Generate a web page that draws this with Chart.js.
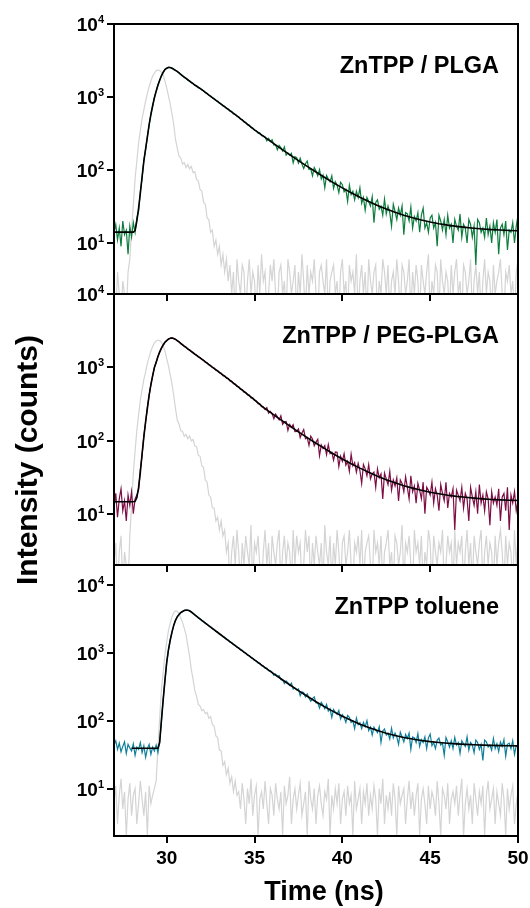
<!DOCTYPE html>
<html>
<head>
<meta charset="utf-8">
<script src="https://cdn.jsdelivr.net/npm/chart.js@4.4.1/dist/chart.umd.min.js"></script>
<style>
  html, body { margin: 0; padding: 0; background: #fff; }
  #wrap { position: relative; width: 530px; height: 908px; overflow: hidden; }
  #wrap canvas { position: absolute; left: 0; top: 0; }
</style>
</head>
<body>
<div id="wrap">
  <canvas id="panelTop" width="530" height="908"></canvas>
  <canvas id="panelMid" width="530" height="908"></canvas>
  <canvas id="panelBot" width="530" height="908"></canvas>
</div>
<script>
// detector channels (ns)
const timeNs = [
  27.0, 27.1, 27.2, 27.3, 27.4, 27.5, 27.6, 27.7, 27.8, 27.9,
  28.0, 28.1, 28.2, 28.3, 28.4, 28.5, 28.6, 28.7, 28.8, 28.9,
  29.0, 29.1, 29.2, 29.3, 29.4, 29.5, 29.6, 29.7, 29.8, 29.9,
  30.0, 30.1, 30.2, 30.3, 30.4, 30.5, 30.6, 30.7, 30.8, 30.9,
  31.0, 31.1, 31.2, 31.3, 31.4, 31.5, 31.6, 31.7, 31.8, 31.9,
  32.0, 32.1, 32.2, 32.3, 32.4, 32.5, 32.6, 32.7, 32.8, 32.9,
  33.0, 33.1, 33.2, 33.3, 33.4, 33.5, 33.6, 33.7, 33.8, 33.9,
  34.0, 34.1, 34.2, 34.3, 34.4, 34.5, 34.6, 34.7, 34.8, 34.9,
  35.0, 35.1, 35.2, 35.3, 35.4, 35.5, 35.6, 35.7, 35.8, 35.9,
  36.0, 36.1, 36.2, 36.3, 36.4, 36.5, 36.6, 36.7, 36.8, 36.9,
  37.0, 37.1, 37.2, 37.3, 37.4, 37.5, 37.6, 37.7, 37.8, 37.9,
  38.0, 38.1, 38.2, 38.3, 38.4, 38.5, 38.6, 38.7, 38.8, 38.9,
  39.0, 39.1, 39.2, 39.3, 39.4, 39.5, 39.6, 39.7, 39.8, 39.9,
  40.0, 40.1, 40.2, 40.3, 40.4, 40.5, 40.6, 40.7, 40.8, 40.9,
  41.0, 41.1, 41.2, 41.3, 41.4, 41.5, 41.6, 41.7, 41.8, 41.9,
  42.0, 42.1, 42.2, 42.3, 42.4, 42.5, 42.6, 42.7, 42.8, 42.9,
  43.0, 43.1, 43.2, 43.3, 43.4, 43.5, 43.6, 43.7, 43.8, 43.9,
  44.0, 44.1, 44.2, 44.3, 44.4, 44.5, 44.6, 44.7, 44.8, 44.9,
  45.0, 45.1, 45.2, 45.3, 45.4, 45.5, 45.6, 45.7, 45.8, 45.9,
  46.0, 46.1, 46.2, 46.3, 46.4, 46.5, 46.6, 46.7, 46.8, 46.9,
  47.0, 47.1, 47.2, 47.3, 47.4, 47.5, 47.6, 47.7, 47.8, 47.9,
  48.0, 48.1, 48.2, 48.3, 48.4, 48.5, 48.6, 48.7, 48.8, 48.9,
  49.0, 49.1, 49.2, 49.3, 49.4, 49.5, 49.6, 49.7, 49.8, 49.9,
  50.0
];

// ---- ZnTPP / PLGA ----
const irfPLGA = [
  3, 1, 4, 2, 1, 3, 2, 1, 4, 6,
  15, 33, 76, 131, 234, 349, 508, 668, 880, 1110,
  1392, 1650, 1940, 2125, 2300, 2335, 2325, 2175, 1985, 1648,
  1330, 1035, 805, 580, 425, 262, 201, 155, 147, 121,
  126, 108, 119, 104, 112, 92, 95, 74, 71, 54,
  51, 36, 34, 22, 21, 14, 15, 9, 11, 7,
  9, 5, 7, 4, 6,
  3, 5, 2, 4, 1, 6, 3, 2, 5, 4,
  1, 3, 6, 2, 4, 3, 1, 5, 2, 7,
  3, 4, 1, 2, 5, 3, 6, 2, 1, 4,
  5, 2, 3, 1, 6, 4, 2, 3, 5, 1,
  4, 2, 7, 3, 1, 5, 2, 4, 3, 6,
  2, 1, 4, 5, 3, 2, 6, 1, 3, 4,
  5, 2, 3, 1, 4, 6, 2, 3, 1, 5,
  3, 4, 2, 7, 1, 3, 5, 2, 4, 1,
  6, 3, 2, 4, 5, 1, 3, 2, 6, 4,
  2, 5, 1, 3, 4, 2, 6, 3, 1, 5,
  4, 2, 3, 6, 1, 4, 2, 5, 3, 1,
  5, 3, 2, 4, 7, 1, 3, 2, 5, 4,
  1, 6, 3, 2, 4, 3, 1, 5, 2, 4,
  6, 2, 3, 1, 5, 4, 2, 3, 6, 1,
  3, 5, 2, 4, 1, 3, 6, 2, 4, 3,
  1, 5, 2, 3, 4, 6, 2, 1, 4, 3,
  5, 2, 3, 1, 4, 6
];
const dataPLGA = [
  14, 18, 11, 16, 9, 20, 13, 15, 7, 17, 12, 19, 14,
  22, 27, 51, 77, 138, 190, 290, 410, 582, 750,
  985, 1190, 1460, 1690, 1962, 2170, 2390, 2470, 2560, 2525,
  2500, 2385, 2330, 2225, 2150, 2030, 1968, 1855, 1810, 1708,
  1665, 1572, 1535, 1450, 1420, 1340, 1318, 1250, 1222, 1148,
  1125, 1055, 1030, 975, 955, 895, 880, 825, 805, 755,
  748, 695, 690, 640, 635, 585, 580, 545, 535, 495,
  490, 455, 448, 415, 412, 380, 376, 350, 345, 320,
  322, 296, 293,
  284, 251, 271, 245, 260, 219, 222, 189, 217, 202,
  182, 207, 160, 171, 159, 169, 125, 152, 148, 124,
  145, 121, 105, 122, 133, 102, 104, 83, 108, 97,
  83, 101, 75, 85, 57, 84, 75, 69, 83, 56,
  69, 62, 49, 68, 63, 50, 54, 37, 62, 46,
  51, 39, 51, 42, 57, 35, 42, 28, 42, 37,
  32, 43, 19, 36, 39, 29, 32, 24, 40, 25,
  32, 26, 17, 34, 27, 21, 30, 24, 32, 13,
  26, 25, 20, 31, 16, 23, 20, 26, 14, 24,
  30, 16, 19, 14, 22, 24, 16, 19, 9, 24,
  20, 15, 21, 13, 24, 16, 18, 10, 21, 17,
  15, 25, 12, 18, 16, 10, 21, 18, 12, 17,
  5, 21, 19, 14, 16, 12, 22, 13, 17, 10,
  19, 14, 21, 7, 16, 18, 13, 20, 8, 15,
  14, 19, 10, 17, 24
];

// ---- ZnTPP / PEG-PLGA ----
const irfPEG = [
  2, 4, 1, 3, 5, 1, 3, 2, 1, 5,
  13, 36, 71, 138, 226, 360, 495, 684, 865, 1131,
  1372, 1668, 1918, 2150, 2282, 2352, 2308, 2196, 1962, 1670,
  1310, 1055, 786, 596, 410, 275, 190, 168, 136, 134,
  114, 121, 106, 116, 99, 103, 84, 83, 63, 61,
  45, 43, 29, 27, 18, 17, 12, 12, 8, 9,
  6, 8, 5, 6, 3,
  4, 1, 3, 5, 2, 6, 3, 1, 4, 2,
  5, 3, 2, 7, 1, 4, 3, 5, 2, 1,
  3, 6, 2, 4, 1, 5, 3, 2, 4, 6,
  1, 3, 5, 2, 4, 3, 1, 6, 2, 5,
  3, 4, 1, 2, 6, 3, 5, 1, 4, 2,
  5, 3, 2, 4, 1, 7, 3, 2, 5, 1,
  4, 2, 6, 3, 1, 4, 5, 2, 3, 6,
  2, 1, 4, 3, 5, 2, 6, 1, 3, 4,
  5, 2, 1, 6, 3, 4, 2, 5, 1, 3,
  4, 6, 2, 3, 1, 5, 4, 2, 3, 7,
  1, 4, 3, 5, 2, 1, 6, 3, 4, 2,
  5, 1, 3, 2, 6, 4, 1, 5, 3, 2,
  4, 3, 6, 1, 2, 5, 3, 4, 1, 6,
  2, 4, 3, 5, 1, 3, 6, 2, 4, 1,
  5, 3, 2, 4, 6, 1, 3, 5, 2, 4,
  3, 1, 5, 2, 4, 6, 3, 1, 5, 2,
  4, 3, 1, 6, 2, 5
];
const dataPEG = [
  12, 19, 9, 16, 22, 11, 15, 8, 18, 13, 20, 10, 16,
  18, 21, 40, 63, 117, 176, 283, 409, 584, 758,
  1001, 1162, 1410, 1608, 1836, 2002, 2205, 2300, 2445, 2478,
  2530, 2455, 2418, 2300, 2232, 2100, 2045, 1925, 1878, 1770,
  1730, 1630, 1592, 1500, 1468, 1382, 1355, 1275, 1250, 1172,
  1150, 1080, 1058, 990, 978, 912, 900, 842, 828, 770,
  765, 710, 705, 650, 648, 595, 590, 548, 543, 498,
  495, 458, 455, 420, 418, 383, 382, 352, 347, 318,
  317, 290, 288,
  265, 281, 237, 250, 234, 198, 230, 211, 191, 218,
  167, 180, 182, 137, 166, 151, 164, 132, 133, 144,
  110, 127, 141, 106, 110, 86, 115, 105, 85, 95,
  104, 62, 87, 78, 85, 64, 88, 66, 69, 54,
  70, 69, 44, 61, 52, 66, 46, 52, 38, 65,
  45, 50, 37, 49, 39, 26, 47, 41, 33, 47,
  30, 35, 37, 23, 41, 31, 35, 16, 36, 30,
  25, 38, 21, 29, 24, 31, 15, 29, 26, 20,
  32, 23, 16, 33, 20, 24, 14, 26, 21, 16,
  27, 10, 23, 21, 18, 27, 14, 22, 18, 11,
  25, 19, 15, 27, 12, 19, 17, 22, 6, 21,
  18, 15, 23, 12, 19, 16, 8, 23, 17, 13,
  20, 10, 25, 14, 18, 11, 20, 16, 7, 20,
  14, 17, 13, 22, 8, 17, 19, 11, 23, 6,
  18, 14, 20, 11, 15
];

// ---- ZnTPP toluene ----
const irfToluene = [
  6, 11, 3, 8, 14, 5, 9, 2, 7, 12, 4, 8, 10, 3, 6, 13, 7, 4, 9, 2, 11, 6, 8,
  10, 13, 39, 110, 292, 528, 945, 1465, 2150, 2738,
  3445, 3920, 4205, 4150, 3865, 3290, 2870, 2325, 1860, 1300,
  905, 575, 410, 279, 232, 175, 165, 141, 147, 128,
  133, 110, 116, 89, 84, 60, 57, 37, 36, 22,
  25, 16, 20, 12, 15, 9, 13, 8,
  9, 5, 12, 7, 3, 10, 6, 14, 4, 8,
  11, 2, 7, 9, 5, 13, 6, 3, 10, 8,
  4, 12, 7, 5, 9, 2, 11, 6, 8, 15,
  3, 7, 10, 5, 8, 12, 4, 6, 9, 2,
  13, 7, 5, 10, 3, 8, 11, 6, 4, 9,
  7, 14, 2, 8, 5, 10, 6, 12, 3, 7,
  9, 4, 11, 6, 8, 2, 13, 5, 7, 10,
  3, 9, 6, 12, 4, 8, 5, 11, 7, 2,
  10, 6, 14, 3, 8, 5, 9, 4, 12, 7,
  2, 11, 6, 8, 10, 3, 7, 13, 5, 9,
  4, 8, 12, 2, 7, 10, 6, 3, 11, 5,
  9, 7, 4, 13, 6, 2, 10, 8, 5, 12,
  3, 7, 9, 6, 11, 4, 8, 14, 2, 6,
  10, 5, 8, 3, 12, 7, 4, 9, 6, 11,
  2, 8, 13, 5, 7, 10, 3, 9, 6, 4,
  12, 7, 2, 10, 5, 8, 11, 3, 6, 9
];
const dataToluene = [
  44, 51, 38, 47, 35, 42, 49, 33, 45, 40, 36, 46, 31, 41, 38, 48, 34, 43, 29, 39, 45, 32, 41, 36, 44, 34,
  50, 98, 210, 390, 735, 1110, 1565, 2025, 2590, 3035,
  3450, 3695, 3975, 4100, 4268, 4290, 4330, 4195, 4070, 3850,
  3700, 3510, 3300, 3205, 3015, 2930, 2750, 2680, 2510, 2445,
  2290, 2240, 2095, 2045, 1910, 1870, 1745, 1710, 1595, 1565,
  1455, 1430, 1335, 1310, 1218, 1200, 1115, 1098, 1020, 1005,
  932, 921, 855, 843, 782, 774, 716, 711, 655, 652,
  602, 600, 551, 552,
  524, 471, 492, 452, 466, 405, 404, 355, 388, 364,
  333, 361, 294, 306, 286, 297, 235, 269, 260, 226,
  251, 217, 194, 214, 227, 184, 185, 155, 187, 171,
  151, 175, 139, 151, 113, 147, 135, 125, 143, 107,
  124, 113, 95, 120, 113, 95, 100, 77, 110, 88,
  94, 77, 95, 82, 101, 72, 81, 62, 81, 73,
  67, 82, 48, 71, 76, 62, 66, 54, 78, 56,
  66, 58, 45, 68, 58, 49, 63, 55, 66, 38,
  58, 56, 48, 65, 42, 53, 48, 58, 39, 56,
  64, 43, 48, 39, 52, 56, 44, 47, 31, 57,
  49, 41, 51, 39, 57, 44, 48, 33, 51, 46,
  42, 58, 37, 48, 44, 34, 52, 48, 38, 45,
  26, 52, 49, 41, 44, 37, 55, 39, 46, 35,
  49, 42, 53, 30, 45, 47, 39, 51, 32, 43,
  41
];

// fitted decays (smooth), shared time grid
const fitTime = [
  27.0, 27.5,
  28.0, 28.1, 28.2, 28.3, 28.4, 28.5, 28.6, 28.7, 28.8, 28.9,
  29.0, 29.1, 29.2, 29.3, 29.4, 29.5, 29.6, 29.7, 29.8, 29.9,
  30.0, 30.1, 30.2, 30.3, 30.4, 30.5, 30.6, 30.7, 30.8, 30.9,
  31.0, 31.1, 31.2, 31.3, 31.4, 31.5, 31.6,
  32.0, 32.5, 33.0, 33.5, 34.0, 34.5, 35.0, 35.5, 36.0, 36.5,
  37.0, 37.5, 38.0, 38.5, 39.0, 39.5, 40.0, 40.5, 41.0, 41.5,
  42.0, 42.5, 43.0, 43.5, 44.0, 44.5, 45.0, 45.5, 46.0, 46.5,
  47.0, 47.5, 48.0, 48.5, 49.0, 49.5, 50.0
];
const fitPLGA = [
  14.1, 14.1,
  14.1, 14.1, 14.8, 20, 30, 48, 81, 132, 195, 282,
  417, 575, 759, 977, 1202, 1445, 1698, 1950, 2188, 2371,
  2483, 2541, 2541, 2483, 2399, 2317, 2239, 2138, 2042, 1950,
  1871, 1795, 1722, 1652, 1585, 1521, 1459,
  1259, 1023, 832, 676, 550, 442, 355, 290.6, 238.8, 196.7,
  162.5, 134.7, 112.1, 93.8, 78.8, 66.7, 56.8, 48.8, 42.3, 37.0,
  32.7, 29.2, 26.35, 24.04, 22.16, 20.63, 19.39, 18.38, 17.56, 16.9,
  16.35, 15.91, 15.55, 15.26, 15.03, 14.83, 14.68
];
const fitPEG = [
  14.6, 14.6,
  14.6, 14.6, 14.8, 16.6, 22.9, 37, 66, 112, 182, 275,
  417, 575, 767, 989, 1175, 1396, 1622, 1820, 2018, 2188,
  2317, 2427, 2495, 2512, 2472, 2399, 2317, 2213, 2118, 2028,
  1941, 1862, 1786, 1714, 1644, 1578, 1514,
  1288, 1047, 851, 692, 556, 447, 359, 282.8, 232.6, 191.7,
  158.5, 131.6, 109.7, 91.9, 77.4, 65.6, 56.0, 48.3, 42.0, 36.8,
  32.6, 29.2, 26.5, 24.2, 22.4, 20.9, 19.7, 18.75, 17.95, 17.3,
  16.8, 16.35, 16.0, 15.7, 15.5, 15.3, 15.16
];
const fitToluene = [
  null, null,
  39.5, 39.5, 39.5, 39.5, 39.5, 39.5, 39.5, 39.5, 39.5, 39.5,
  39.5, 39.5, 39.5, 39.5, 39.5, 39.5, 47.9, 102, 204, 398,
  724, 1122, 1549, 2042, 2570, 3055, 3428, 3715, 3954, 4121,
  4246, 4315, 4305, 4217, 4046, 3873, 3681,
  3040, 2423, 1933, 1544, 1236, 990, 795, 640, 517, 419,
  342, 280, 231, 192, 161, 137, 117, 102, 89.5, 79.7,
  72.0, 65.8, 60.9, 57.0, 53.9, 51.5, 49.5, 48.0, 46.75, 45.8,
  45.0, 44.4, 43.9, 43.5, 43.2, 42.95, 42.75
];

const timeTicks = [30, 35, 40, 45, 50];
const decadeTicks = [10, 100, 1000, 10000];
const panelNames = ['ZnTPP / PLGA', 'ZnTPP / PEG-PLGA', 'ZnTPP toluene'];

const FONT = '"Liberation Sans", Arial, Helvetica, sans-serif';
Chart.defaults.font.family = FONT;

function pairs(xs, ys) {
    return xs.map((x, i) => ({ x: x, y: ys[i] }));
}

function decorPlugin(opts) {
    return {
        id: 'decor',
        afterDatasetsDraw(chart) {
            const ctx = chart.ctx;
            const a = chart.chartArea;
            const xs = chart.scales.x;
            const ys = chart.scales.y;
            ctx.save();
            ctx.strokeStyle = '#000';
            ctx.lineWidth = 2;
            ctx.strokeRect(a.left, a.top, a.right - a.left, a.bottom - a.top);

            // inward ticks along the top edge
            if (opts.innerTicks) {
                ctx.beginPath();
                timeTicks.forEach(v => {
                    const px = Math.round(xs.getPixelForValue(v));
                    ctx.moveTo(px, a.top);
                    ctx.lineTo(px, a.top + 7);
                });
                ctx.stroke();
            }

            // decade labels 10^n
            ctx.fillStyle = '#000';
            ctx.textBaseline = 'alphabetic';
            ctx.textAlign = 'left';
            ys.ticks.forEach(t => {
                const py = ys.getPixelForValue(t.value);
                const exp = String(Math.round(Math.log10(t.value)));
                ctx.font = 'bold 11px ' + FONT;
                const ew = ctx.measureText(exp).width;
                ctx.font = 'bold 19px ' + FONT;
                const bw = ctx.measureText('10').width;
                const right = 104;
                ctx.fillText('10', right - ew - bw, py + 7);
                ctx.font = 'bold 11px ' + FONT;
                ctx.fillText(exp, right - ew, py - 1);
            });

            ctx.font = 'bold 23.5px ' + FONT;
            ctx.textAlign = 'right';
            ctx.fillText(opts.name, 499, a.top + 49);

            if (opts.yTitle) {
                ctx.save();
                ctx.translate(29, 460);
                ctx.rotate(-Math.PI / 2);
                ctx.textAlign = 'center';
                ctx.textBaseline = 'middle';
                ctx.font = 'bold 30px ' + FONT;
                ctx.fillText('Intensity (counts)', 0, 0);
                ctx.restore();
            }
            if (opts.showTime) {
                ctx.textAlign = 'center';
                ctx.textBaseline = 'alphabetic';
                ctx.font = 'bold 27px ' + FONT;
                ctx.fillText('Time (ns)', 324, 900);
            }
            ctx.restore();
        }
    };
}

function createPanel(canvasId, opts) {
    const ctx = document.getElementById(canvasId).getContext('2d');
    const xAxis = {
        type: 'linear',
        min: 27,
        max: 50,
        display: opts.showTime
    };
    if (opts.showTime) {
        Object.assign(xAxis, {
            afterBuildTicks: s => { s.ticks = timeTicks.map(v => ({ value: v })); },
            afterFit: s => { s.height = 72; s.paddingLeft = 0; s.paddingRight = 0; },
            ticks: { color: '#000', font: { size: 19, weight: 'bold' }, padding: 4, maxRotation: 0, autoSkip: false },
            grid: { drawOnChartArea: false, tickLength: 7, color: '#000', lineWidth: 2 },
            border: { display: false }
        });
    }
    return new Chart(ctx, {
        type: 'line',
        data: {
            datasets: [
                { label: 'fit', data: pairs(fitTime, opts.fit), borderColor: '#000', borderWidth: 1.6, order: 0 },
                { label: 'decay', data: pairs(timeNs, opts.decay), borderColor: opts.color, borderWidth: 1.2, order: 1 },
                { label: 'IRF', data: pairs(timeNs, opts.irf), borderColor: '#d4d4d4', borderWidth: 1.2, order: 2 }
            ]
        },
        options: {
            responsive: false,
            devicePixelRatio: 1,
            animation: false,
            events: [],
            layout: { padding: { top: opts.top, bottom: opts.bottom, left: 0, right: 12 } },
            elements: { point: { radius: 0 }, line: { tension: 0 } },
            scales: {
                x: xAxis,
                y: {
                    type: 'logarithmic',
                    min: 2,
                    max: opts.yMax,
                    afterBuildTicks: s => { s.ticks = decadeTicks.filter(v => v <= opts.yMax).map(v => ({ value: v, major: true })); },
                    afterFit: s => { s.width = 114; },
                    ticks: { display: false },
                    grid: { drawOnChartArea: false, tickLength: 7, color: '#000', lineWidth: 2 },
                    border: { display: false }
                }
            },
            plugins: { legend: { display: false }, tooltip: { enabled: false } }
        },
        plugins: [decorPlugin(opts)]
    });
}

window.onload = function() {
    createPanel('panelTop', { name: panelNames[0], irf: irfPLGA, decay: dataPLGA, fit: fitPLGA, color: '#0d7d3d',
        yMax: 10000, top: 24, bottom: 614, showTime: false, innerTicks: false, yTitle: false });
    createPanel('panelMid', { name: panelNames[1], irf: irfPEG, decay: dataPEG, fit: fitPEG, color: '#7d0d45',
        yMax: 10000, top: 294, bottom: 343, showTime: false, innerTicks: true, yTitle: true });
    createPanel('panelBot', { name: panelNames[2], irf: irfToluene, decay: dataToluene, fit: fitToluene, color: '#0f7f99',
        yMax: 20000, top: 565, bottom: 0, showTime: true, innerTicks: true, yTitle: false });
};
</script>
</body>
</html>
